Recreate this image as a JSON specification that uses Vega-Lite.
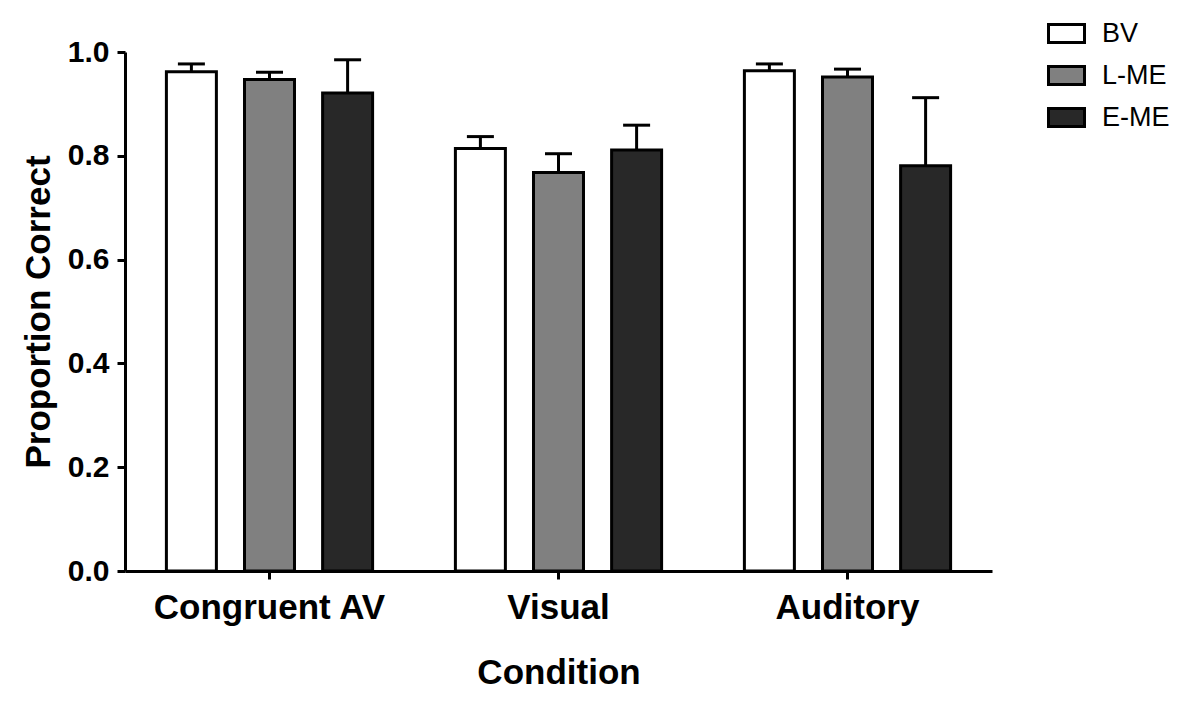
{
  "$schema": "https://vega.github.io/schema/vega-lite/v6.json",
  "width": 867,
  "height": 519,
  "autosize": {"type": "none"},
  "padding": {"left": 125, "top": 52, "right": 189, "bottom": 132},
  "background": "white",
  "data": {
    "values": [
      {"condition": "Congruent AV", "group": "BV", "value": 0.962, "upper": 0.977},
      {"condition": "Congruent AV", "group": "L-ME", "value": 0.947, "upper": 0.961},
      {"condition": "Congruent AV", "group": "E-ME", "value": 0.921, "upper": 0.985},
      {"condition": "Visual", "group": "BV", "value": 0.814, "upper": 0.837},
      {"condition": "Visual", "group": "L-ME", "value": 0.768, "upper": 0.804},
      {"condition": "Visual", "group": "E-ME", "value": 0.811, "upper": 0.859},
      {"condition": "Auditory", "group": "BV", "value": 0.964, "upper": 0.977},
      {"condition": "Auditory", "group": "L-ME", "value": 0.952, "upper": 0.967},
      {"condition": "Auditory", "group": "E-ME", "value": 0.781, "upper": 0.912}
    ]
  },
  "encoding": {
    "x": {
      "field": "condition",
      "type": "nominal",
      "sort": ["Congruent AV", "Visual", "Auditory"],
      "title": "Condition",
      "scale": {"paddingInner": 0, "paddingOuter": 0},
      "axis": {
        "labelAngle": 0,
        "labelLimit": 0,
        "labelFontSize": 35,
        "labelFontWeight": "bold",
        "labelPadding": 11,
        "titleFontSize": 35,
        "titlePadding": 30,
        "tickSize": 8
      }
    },
    "xOffset": {
      "field": "group",
      "type": "nominal",
      "sort": ["BV", "L-ME", "E-ME"],
      "scale": {"paddingInner": 0.36, "paddingOuter": 0.53}
    }
  },
  "layer": [
    {
      "mark": {"type": "rule", "color": "black", "strokeWidth": 3},
      "encoding": {
        "y": {"field": "value", "type": "quantitative"},
        "y2": {"field": "upper"}
      }
    },
    {
      "mark": {"type": "tick", "color": "black", "size": 27, "thickness": 3, "opacity": 1},
      "encoding": {
        "y": {"field": "upper", "type": "quantitative"}
      }
    },
    {
      "mark": {"type": "bar", "stroke": "black", "strokeWidth": 3, "opacity": 1},
      "encoding": {
        "y": {
          "field": "value",
          "type": "quantitative",
          "title": "Proportion Correct",
          "scale": {"domain": [0, 1], "nice": false},
          "axis": {
            "values": [0, 0.2, 0.4, 0.6, 0.8, 1.0],
            "format": ".1f",
            "labelFontSize": 30,
            "labelFontWeight": "bold",
            "labelPadding": 8,
            "tickSize": 8,
            "titleFontSize": 35,
            "titlePadding": 11
          }
        },
        "fill": {
          "field": "group",
          "type": "nominal",
          "sort": ["BV", "L-ME", "E-ME"],
          "scale": {"domain": ["BV", "L-ME", "E-ME"], "range": ["#ffffff", "#808080", "#282828"]},
          "legend": {
            "title": null,
            "orient": "none",
            "legendX": 922,
            "legendY": -38,
            "symbolType": "M-1,-0.5H1V0.5H-1Z",
            "symbolSize": 1296,
            "symbolStrokeColor": "black",
            "symbolStrokeWidth": 3,
            "symbolOpacity": 1,
            "labelFontSize": 27,
            "labelOffset": 16,
            "rowPadding": 7
          }
        }
      }
    }
  ],
  "config": {
    "font": "Liberation Sans",
    "view": {"stroke": null},
    "axis": {
      "grid": false,
      "domainColor": "black",
      "domainWidth": 3,
      "tickColor": "black",
      "tickWidth": 3,
      "labelColor": "black",
      "titleColor": "black",
      "titleFontWeight": "bold",
      "labelFont": "Liberation Sans",
      "titleFont": "Liberation Sans"
    },
    "legend": {"labelColor": "black", "labelFont": "Liberation Sans"}
  }
}
